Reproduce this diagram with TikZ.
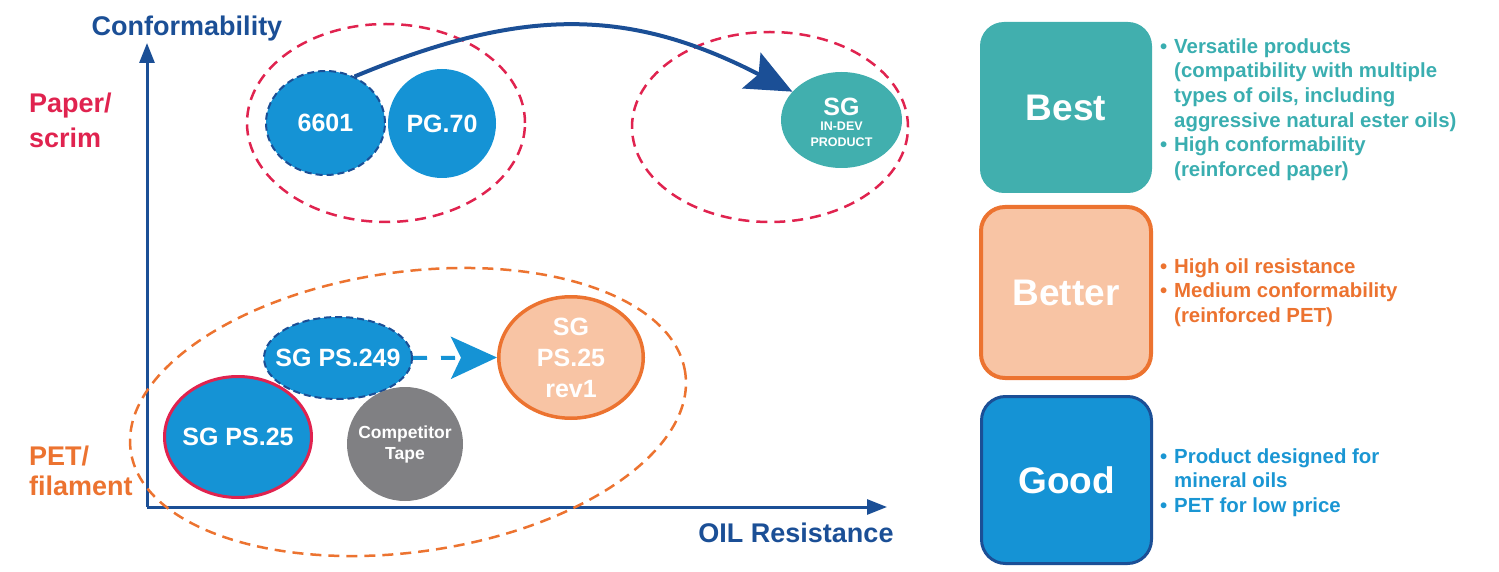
\documentclass[tikz,border=0pt]{standalone}
\usepackage{fontspec}
\setmainfont{Liberation Sans}
\usetikzlibrary{shapes.geometric,arrows.meta}
\definecolor{dblue}{HTML}{1B4F96}
\definecolor{crim}{HTML}{E0234F}
\definecolor{orng}{HTML}{EC7330}
\definecolor{lblue}{HTML}{1593D5}
\definecolor{tealc}{HTML}{41AFAE}
\definecolor{tealtxt}{HTML}{3AAEB0}
\definecolor{peach}{HTML}{F8C4A4}
\definecolor{grayc}{HTML}{808083}
\definecolor{btxt}{HTML}{1A96D3}
\begin{document}
\begin{tikzpicture}[x=1pt,y=-1pt,
  prod/.style={ellipse, inner sep=0pt, fill=lblue},
  ptxt/.style={inner sep=0pt, text=white, align=center, font=\bfseries\fontsize{25}{31}\selectfont},
  grp/.style={ellipse, draw, line width=2.5pt, dash pattern=on 11pt off 7pt, inner sep=0pt},
  axis/.style={draw=dblue, line width=3pt, -{Triangle[length=20pt,width=15pt]}},
  tier/.style={rounded corners=24pt, text=white, font=\bfseries\fontsize{37}{44}\selectfont},
  desc/.style={anchor=north west, inner sep=0pt, align=left, font=\bfseries\fontsize{20.4}{24.6}\selectfont},
  side/.style={anchor=north west, inner sep=0pt, align=left, font=\bfseries\fontsize{27}{35}\selectfont}]
\useasboundingbox (0,0) rectangle (1499,572);
% axes
\coordinate (O) at (147,507);
\coordinate (ytip) at (147,43);
\coordinate (xtip) at (887,507);
\draw[axis] (O) -- (ytip);
\draw[axis] (O) -- (xtip);
\node[anchor=base, text=dblue, font=\bfseries\fontsize{27}{32}\selectfont] (ylab) at (187,36) {Conformability};
\node[anchor=base, text=dblue, font=\bfseries\fontsize{27}{32}\selectfont] (xlab) at (796,542) {OIL Resistance};
\node[side, text=crim] (paper) at (29,92.5) {Paper/\\scrim};
\node[side, text=orng, font=\bfseries\fontsize{27}{30}\selectfont] (pet) at (29,445.5) {PET/\\filament};
% groups
\node[grp, draw=crim, minimum width=278pt, minimum height=198pt] (g1) at (386,123) {};
\node[grp, draw=crim, minimum width=276pt, minimum height=190pt] (g2) at (770,127) {};
\node[grp, draw=orng, minimum width=560pt, minimum height=280pt, rotate=8] (g3) at (408,412) {};
% products
\node[prod, minimum width=108pt, minimum height=109pt, label={[ptxt]center:PG.70}] (pg70) at (442,123.5) {};
\node[prod, draw=dblue, line width=2pt, dash pattern=on 7pt off 4pt, minimum width=119pt, minimum height=104pt, label={[ptxt]center:6601}] (p6601) at (325.5,123) {};
\node[prod, fill=tealc, minimum width=121pt, minimum height=96pt,
  label={[ptxt, font=\bfseries\fontsize{12.5}{15.5}\selectfont, yshift=-2pt]center:{{\fontsize{25}{15.5}\selectfont SG}\\IN-DEV\\PRODUCT}}] (sgdev) at (841.5,120) {};
\node[prod, draw=dblue, line width=2pt, dash pattern=on 7pt off 4pt, minimum width=148pt, minimum height=82pt, label={[ptxt]center:SG PS.249}] (ps249) at (338,358) {};
\node[prod, draw=crim, line width=3pt, minimum width=147pt, minimum height=121pt, label={[ptxt]center:SG PS.25}] (ps25) at (238,437) {};
\node[prod, fill=grayc, minimum width=116pt, minimum height=114pt,
  label={[ptxt, font=\bfseries\fontsize{17.5}{21}\selectfont]center:{Competitor\\Tape}}] (comp) at (405,444) {};
\node[prod, fill=peach, draw=orng, line width=3.5pt, minimum width=144.5pt, minimum height=121.5pt,
  label={[ptxt]center:{SG\\PS.25\\rev1}}] (rev1) at (571,357.5) {};
% arrows
\draw[dblue, line width=4pt, -{Stealth[length=46pt,width=40pt,inset=8pt]}] (p6601.58) .. controls (524,6) and (630,8) .. (sgdev.150);
\draw[lblue, line width=4pt, dash pattern=on 14pt off 14pt, -{Stealth[length=46pt,width=42pt,inset=10pt]}] (ps249.east) -- (rev1.west);
% tiers
\node[tier, fill=tealc, minimum width=172pt, minimum height=171pt] (best) at (1066,107.5) {Best};
\node[tier, fill=peach, draw=orng, line width=4pt, minimum width=170pt, minimum height=171pt] (better) at (1066,292.5) {Better};
\node[tier, fill=lblue, draw=dblue, line width=3pt, minimum width=170pt, minimum height=167pt] (good) at (1066.5,480) {Good};
\node[desc, text=tealtxt] (bestd) at (1160,38.4) {\makebox[14pt][l]{•}Versatile products\\
\hspace*{14pt}(compatibility with multiple\\
\hspace*{14pt}types of oils, including\\
\hspace*{14pt}aggressive natural ester oils)\\
\makebox[14pt][l]{•}High conformability\\
\hspace*{14pt}(reinforced paper)};
\node[desc, text=orng] (betterd) at (1160,258.4) {\makebox[14pt][l]{•}High oil resistance\\
\makebox[14pt][l]{•}Medium conformability\\
\hspace*{14pt}(reinforced PET)};
\node[desc, text=btxt] (goodd) at (1160,448.4) {\makebox[14pt][l]{•}Product designed for\\
\hspace*{14pt}mineral oils\\
\makebox[14pt][l]{•}PET for low price};
\end{tikzpicture}
\end{document}
